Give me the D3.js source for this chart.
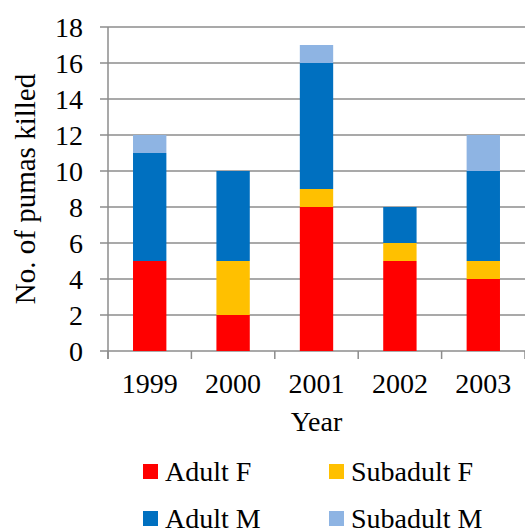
<!DOCTYPE html>
<html>
<head>
<meta charset="utf-8">
<script src="https://cdn.jsdelivr.net/npm/d3@7"></script>
<style>
  body { margin: 0; background: #fff; }
</style>
</head>
<body>
<div id="container"></div>
<script>
// Data
const years = ["1999", "2000", "2001", "2002", "2003"];
const adultF = [5, 2, 8, 5, 4];
const subadultF = [0, 3, 1, 1, 1];
const adultM = [6, 5, 7, 2, 5];
const subadultM = [1, 0, 1, 0, 2];
const seriesNames = ["Adult F", "Subadult F", "Adult M", "Subadult M"];
const seriesColors = ["#ff0000", "#ffc000", "#0070c0", "#8eb4e3"];
const yTicks = [0, 2, 4, 6, 8, 10, 12, 14, 16, 18];

const width = 525, height = 529;
const m = { left: 108, right: 525, top: 27, bottom: 351 };
const font = "'Liberation Serif', 'Times New Roman', Times, serif";

const svg = d3.create("svg")
  .attr("width", width)
  .attr("height", height)
  .attr("font-family", font)
  .attr("font-size", 28);
container.append(svg.node());

// build rows for the stack
const rows = years.map((y, i) => ({
  year: y,
  "Adult F": adultF[i],
  "Subadult F": subadultF[i],
  "Adult M": adultM[i],
  "Subadult M": subadultM[i]
}));
const stacked = d3.stack().keys(seriesNames)(rows);

const x = d3.scaleBand()
  .domain(years)
  .range([m.left, m.right])
  .paddingInner(0.6)
  .paddingOuter(0.3);

const y = d3.scaleLinear()
  .domain([0, 18])
  .range([m.bottom, m.top]);

// gridlines
svg.append("g")
  .selectAll("line")
  .data(yTicks)
  .join("line")
  .attr("x1", m.left - 8)
  .attr("x2", m.right)
  .attr("y1", d => y(d))
  .attr("y2", d => y(d))
  .attr("stroke", "#8c8c8c")
  .attr("stroke-width", 1.5);

// y axis line
svg.append("line")
  .attr("x1", m.left).attr("x2", m.left)
  .attr("y1", m.top).attr("y2", m.bottom + 8)
  .attr("stroke", "#8c8c8c")
  .attr("stroke-width", 1.5);

// x tick marks at band edges
const step = x.step();
const edges = d3.range(years.length + 1).map(i => m.left + i * step);
svg.append("g")
  .selectAll("line")
  .data(edges)
  .join("line")
  .attr("x1", d => d).attr("x2", d => d)
  .attr("y1", m.bottom).attr("y2", m.bottom + 8)
  .attr("stroke", "#8c8c8c")
  .attr("stroke-width", 1.5);

// bars
svg.append("g")
  .selectAll("g")
  .data(stacked)
  .join("g")
  .attr("fill", (d, i) => seriesColors[i])
  .selectAll("rect")
  .data(d => d)
  .join("rect")
  .attr("x", d => x(d.data.year))
  .attr("width", x.bandwidth())
  .attr("y", d => y(d[1]))
  .attr("height", d => y(d[0]) - y(d[1]));

// y tick labels
svg.append("g")
  .selectAll("text")
  .data(yTicks)
  .join("text")
  .attr("x", 83)
  .attr("y", d => y(d))
  .attr("dy", "0.34em")
  .attr("text-anchor", "end")
  .text(d => d);

// x tick labels
svg.append("g")
  .selectAll("text")
  .data(years)
  .join("text")
  .attr("x", d => x(d) + x.bandwidth() / 2)
  .attr("y", 393)
  .attr("text-anchor", "middle")
  .text(d => d);

// axis titles
svg.append("text")
  .attr("x", (m.left + m.right) / 2)
  .attr("y", 431)
  .attr("text-anchor", "middle")
  .text("Year");

svg.append("text")
  .attr("transform", `translate(35,${(m.top + m.bottom) / 2}) rotate(-90)`)
  .attr("text-anchor", "middle")
  .attr("font-size", 29)
  .text("No. of pumas killed");

// legend
const legendPos = [[143, 464], [329, 464], [143, 511], [329, 511]];
const legend = svg.append("g")
  .selectAll("g")
  .data(seriesNames)
  .join("g")
  .attr("transform", (d, i) => `translate(${legendPos[i][0]},${legendPos[i][1]})`);
legend.append("rect")
  .attr("width", 15).attr("height", 15)
  .attr("fill", (d, i) => seriesColors[i]);
legend.append("text")
  .attr("x", 22)
  .attr("y", 17)
  .text(d => d);
</script>
</body>
</html>
